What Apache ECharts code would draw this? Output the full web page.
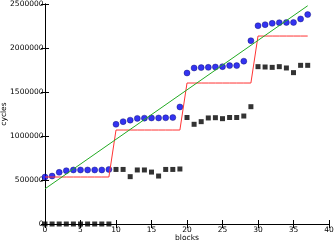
<!DOCTYPE html>
<html><head><meta charset="utf-8">
<script src="https://cdn.jsdelivr.net/npm/echarts@6/dist/echarts.min.js"></script>
<style>html,body{margin:0;padding:0;background:#fff}#c{width:335px;height:242px}</style>
</head><body><div id="c"></div>
<script>
const blocks = [0,1,2,3,4,5,6,7,8,9,10,11,12,13,14,15,16,17,18,19,20,21,22,23,24,25,26,27,28,29,30,31,32,33,34,35,36,37];
const blueCycles = [534000,545000,587000,606000,614000,614000,614000,614000,614000,620000,
  1133000,1163000,1180000,1200000,1203000,1205000,1205000,1207000,1210000,1330000,
  1716000,1773000,1777000,1780000,1784000,1788000,1800000,1800000,1850000,2083000,
  2253000,2265000,2280000,2288000,2290000,2290000,2330000,2380000];
const blackCycles = [0,0,0,0,0,0,0,0,0,0,
  620000,620000,538000,614000,614000,590000,545000,620000,620000,625000,
  1210000,1133000,1163000,1205000,1208000,1197000,1210000,1210000,1227000,1333000,
  1788000,1784000,1780000,1788000,1773000,1720000,1803000,1803000];
const stepCycles = [534000,534000,534000,534000,534000,534000,534000,534000,534000,534000,
  1068000,1068000,1068000,1068000,1068000,1068000,1068000,1068000,1068000,1068000,
  1602000,1602000,1602000,1602000,1602000,1602000,1602000,1602000,1602000,1602000,
  2136000,2136000,2136000,2136000,2136000,2136000,2136000,2136000];
const fitX = [0, 37];
const fitCycles = [400000, 2480000];
const xTicks = [0,5,10,15,20,25,30,35,40];
const yTicks = [0,500000,1000000,1500000,2000000,2500000];

const font = 'DejaVu Sans';
const fs = 7.5;
const pair = (xs, ys) => xs.map((x, i) => [x, ys[i]]);
const chart = echarts.init(document.getElementById('c'), null, {renderer: 'canvas'});
const axLine = {show: true, lineStyle: {color: '#000', width: 1}};
const tick = {show: true, inside: true, length: 4, lineStyle: {color: '#000', width: 1}};
chart.setOption({
  animation: false,
  grid: {left: 45, right: 6, top: 4, bottom: 18, containLabel: false, outerBoundsMode: 'none'},
  xAxis: [{
    type: 'value', min: xTicks[0], max: xTicks[xTicks.length-1], interval: 5,
    name: 'blocks', nameLocation: 'middle', nameGap: 10, nameMoveOverlap: false,
    nameTextStyle: {fontFamily: font, fontSize: fs, color: '#000'},
    axisLine: axLine, axisTick: tick, splitLine: {show: false},
    axisLabel: {fontFamily: font, fontSize: fs, color: '#000', margin: 2, formatter: v => String(v)}
  }, {
    type: 'value', position: 'top', min: 0, max: 40, interval: 5,
    axisLine: axLine, axisTick: tick, splitLine: {show: false}, axisLabel: {show: false}
  }],
  yAxis: [{
    type: 'value', min: yTicks[0], max: yTicks[yTicks.length-1], interval: 500000,
    name: 'cycles', nameLocation: 'middle', nameGap: 37, nameRotate: 90, nameMoveOverlap: false,
    nameTextStyle: {fontFamily: font, fontSize: fs, color: '#000'},
    axisLine: axLine, axisTick: tick, splitLine: {show: false},
    axisLabel: {fontFamily: font, fontSize: fs, color: '#000', margin: 1.5, formatter: v => String(v)}
  }, {
    type: 'value', position: 'right', min: 0, max: 2500000, interval: 500000,
    axisLine: axLine, axisTick: tick, splitLine: {show: false}, axisLabel: {show: false}
  }],
  series: [
    {type: 'scatter', data: pair(blocks, blackCycles), symbol: 'rect', symbolSize: 5,
     itemStyle: {color: '#000'}, z: 3},
    {type: 'scatter', data: pair(blocks, blueCycles), symbol: 'circle', symbolSize: 6,
     itemStyle: {color: '#0000ee', borderColor: '#000066', borderWidth: 0.5}, z: 3},
    {type: 'line', data: pair(blocks, stepCycles), symbol: 'none',
     lineStyle: {color: '#ff3333', width: 1}, z: 4},
    {type: 'line', data: pair(fitX, fitCycles), symbol: 'none',
     lineStyle: {color: '#22aa22', width: 1}, z: 4}
  ]
});
</script></body></html>
